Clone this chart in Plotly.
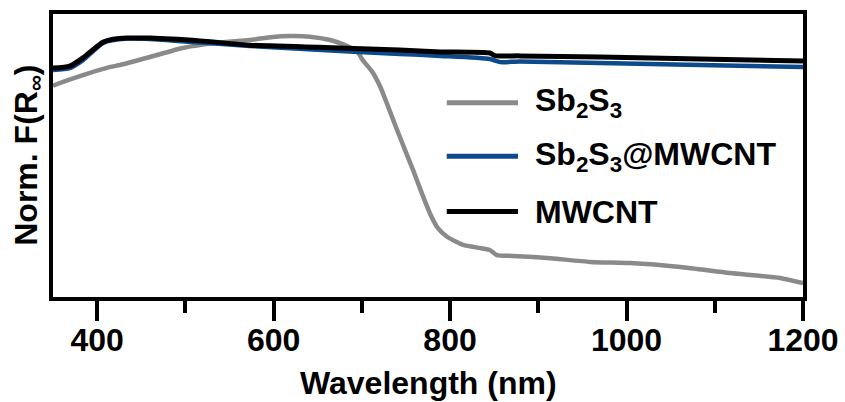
import plotly.graph_objects as go

# Sb2S3
wl_sb = [350, 352, 384, 415, 426, 460, 497, 536, 573, 599, 619, 641, 664, 681, 695, 701, 712, 721,
         730, 740, 749, 758, 768, 777, 786, 797, 815, 834, 845, 853, 871, 910, 959, 1004, 1061, 1117, 1174, 1200]
y_sb = [0.746, 0.749, 0.784, 0.813, 0.820, 0.848, 0.880, 0.898, 0.908, 0.919, 0.922, 0.920, 0.908, 0.890,
        0.866, 0.837, 0.795, 0.742, 0.671, 0.590, 0.519, 0.449, 0.367, 0.297, 0.244, 0.212, 0.184, 0.173,
        0.166, 0.148, 0.145, 0.138, 0.124, 0.120, 0.106, 0.085, 0.067, 0.049]

# Sb2S3@MWCNT
wl_comp = [350, 369, 384, 407, 434, 460, 517, 573, 675, 743, 789, 845, 857, 879, 970, 1083, 1200]
y_comp = [0.802, 0.809, 0.837, 0.898, 0.913, 0.912, 0.899, 0.887, 0.869, 0.859, 0.852, 0.841, 0.830,
          0.832, 0.827, 0.820, 0.813]

# MWCNT
wl_cnt = [350, 369, 384, 395, 407, 420, 434, 460, 517, 573, 675, 743, 789, 845, 851, 879, 970, 1083, 1200]
y_cnt = [0.809, 0.816, 0.845, 0.873, 0.901, 0.912, 0.915, 0.915, 0.905, 0.890, 0.880, 0.873, 0.866,
         0.862, 0.853, 0.852, 0.848, 0.841, 0.834]

names = ["Sb<sub>2</sub>S<sub>3</sub>", "Sb<sub>2</sub>S<sub>3</sub>@MWCNT", "MWCNT"]
colors = ["#8a8a8a", "#0c4a8c", "#000000"]
widths = [4.5, 4.5, 5]

x_ticks = [400, 600, 800, 1000, 1200]
x_minor = [500, 700, 900, 1100]

FONT = "Liberation Sans, Arial, sans-serif"

fig = go.Figure()
for xs, ys, c, w in zip([wl_sb, wl_comp, wl_cnt], [y_sb, y_comp, y_cnt], colors, widths):
    fig.add_trace(go.Scatter(x=xs, y=ys, mode="lines",
                             line=dict(color=c, width=w, shape="spline", smoothing=0.6),
                             showlegend=False, hoverinfo="skip"))

# manual legend
leg_y = [0.686, 0.497, 0.302]
for ly, c, n in zip(leg_y, colors, names):
    fig.add_shape(type="line", xref="paper", yref="paper", x0=0.525, x1=0.62, y0=ly, y1=ly,
                  line=dict(color=c, width=5))
    fig.add_annotation(xref="paper", yref="paper", x=0.64, y=ly, xanchor="left", yanchor="middle",
                       text="<b>" + n + "</b>", showarrow=False,
                       font=dict(family=FONT, size=32, color="black"))

# axis titles
fig.add_annotation(xref="paper", yref="paper", x=0.5, y=-0.305, xanchor="center", yanchor="middle",
                   text="<b>Wavelength (nm)</b>", showarrow=False,
                   font=dict(family=FONT, size=32, color="black"))
fig.add_annotation(xref="paper", yref="paper", x=-0.033, y=0.5, xanchor="center", yanchor="middle",
                   text="<b>Norm. F(R<sub>∞</sub>)</b>", showarrow=False, textangle=-90,
                   font=dict(family=FONT, size=32, color="black"))

fig.update_layout(
    width=845, height=402,
    margin=dict(l=53, r=42, t=14, b=105, autoexpand=False),
    paper_bgcolor="white", plot_bgcolor="white",
    font=dict(family=FONT, size=32, color="black"),
    showlegend=False,
)
fig.update_xaxes(
    range=[350, 1200], tickvals=x_ticks, ticktext=["<b>%d</b>" % v for v in x_ticks],
    showline=True, mirror=True, linecolor="black", linewidth=4,
    ticks="outside", ticklen=20, tickwidth=4, tickcolor="black",
    minor=dict(tickvals=x_minor, ticks="outside", ticklen=12, tickwidth=4, tickcolor="black"),
    showgrid=False, zeroline=False, automargin=False,
    tickfont=dict(family=FONT, size=32), ticklabelstandoff=-8,
)
fig.update_yaxes(
    range=[0, 1], showline=True, mirror=True, linecolor="black", linewidth=4,
    showticklabels=False, ticks="", showgrid=False, zeroline=False, automargin=False,
)

fig.write_html("out.html", config={"displayModeBar": False},
               post_script="document.body.style.margin='0';document.body.style.overflow='hidden';")
